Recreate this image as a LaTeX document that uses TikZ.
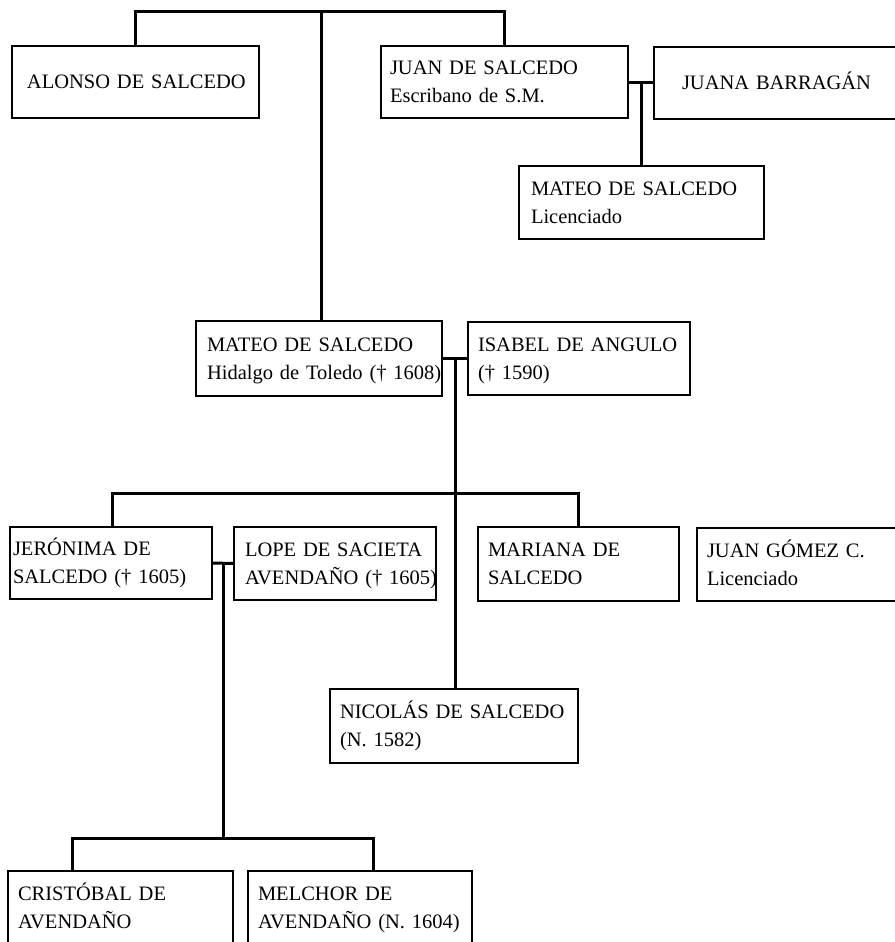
\documentclass[tikz,border=0pt]{standalone}
\usepackage{fontspec}
\setmainfont{Liberation Serif}
\usetikzlibrary{calc}
\tikzset{
  fam/.style={draw, line width=1.5pt, rectangle, outer sep=0pt, inner ysep=0pt,
    align=left, anchor=north west, font={\fontsize{20.5}{28}\selectfont},
    execute at begin node={\rule{0pt}{19pt}},
    execute at end node={\rule[-6pt]{0pt}{6pt}}},
  link/.style={line width=3pt}
}
% name, left, top, right, bottom, pad, content
\newcommand\famnode[7]{%
  \pgfmathsetmacro\famw{#4-#2-2*#6}%
  \pgfmathsetmacro\famh{#5-#3}%
  \node[fam, text width=\famw pt, inner xsep=#6pt, minimum height=\famh pt] (#1) at (#2,#3) {#7};%
}
\begin{document}
\begin{tikzpicture}[x=1pt,y=-1pt]
\useasboundingbox (0,0) rectangle (894,942);

\famnode{alonso}{12}{46}{259}{118}{15}{\mbox{ALONSO DE SALCEDO}}
\famnode{juan}{381}{46}{628}{118}{9}{\mbox{JUAN DE SALCEDO}\\\mbox{Escribano de S.M.}}
\famnode{juana}{654}{47}{912}{119}{28}{\mbox{JUANA BARRAGÁN}}
\famnode{mateolic}{519}{166}{764}{239}{12}{\mbox{MATEO DE SALCEDO}\\\mbox{Licenciado}}
\famnode{mateo}{196}{321}{442}{396}{11}{\mbox{MATEO DE SALCEDO}\\\mbox{Hidalgo de Toledo († 1608)}}
\famnode{isabel}{468}{322}{690}{395}{10}{\mbox{ISABEL DE ANGULO}\\\mbox{(† 1590)}}
\famnode{jeronima}{10}{527}{212}{599}{3}{\mbox{JERÓNIMA DE}\\\mbox{SALCEDO († 1605)}}
\famnode{lope}{234}{527}{436}{600}{11}{\mbox{LOPE DE SACIETA}\\\mbox{AVENDAÑO († 1605)}}
\famnode{mariana}{478}{527}{679}{601}{10}{\mbox{MARIANA DE}\\\mbox{SALCEDO}}
\famnode{gomez}{697}{528}{912}{601}{10}{\mbox{JUAN GÓMEZ C.}\\\mbox{Licenciado}}
\famnode{nicolas}{330}{689}{578}{763}{10}{\mbox{NICOLÁS DE SALCEDO}\\\mbox{(N. 1582)}}
\famnode{cristobal}{8}{871}{233}{945}{10}{\mbox{CRISTÓBAL DE}\\\mbox{AVENDAÑO}}
\famnode{melchor}{248}{871}{472}{945}{10}{\mbox{MELCHOR DE}\\\mbox{AVENDAÑO (N. 1604)}}

% top family bracket
\coordinate (top) at (321,12);
\draw[link] (alonso.north) |- (top) -| (juan.north);
\draw[link] (top) -- (top |- mateo.north);

% Juan + Juana
\coordinate (m1) at ($(juan.east)!0.5!(juan.east -| juana.west)$);
\draw[link] (juan.east) -- (juan.east -| juana.west);
\draw[link] (m1) -- (m1 |- mateolic.north);

% Mateo + Isabel
\coordinate (m2) at ($(mateo.east)!0.5!(isabel.west)$);
\draw[link] (mateo.east) -- (isabel.west);
\draw[link] (m2) -- (m2 |- nicolas.north);

% siblings bracket
\coordinate (sl) at (112,493);
\coordinate (sr) at (578,493);
\draw[link] (sl |- jeronima.north) -- (sl) -- (sr) -- (sr |- mariana.north);

% Jeronima + Lope
\coordinate (m3) at ($(jeronima.east)!0.5!(lope.west)$);
\draw[link] (jeronima.east) -- (lope.west);
\coordinate (cb) at (72,838);
\coordinate (mb) at (373,838);
\draw[link] (m3) -- (m3 |- cb);
\draw[link] (cb |- cristobal.north) -- (cb) -- (mb) -- (mb |- melchor.north);
\end{tikzpicture}
\end{document}
